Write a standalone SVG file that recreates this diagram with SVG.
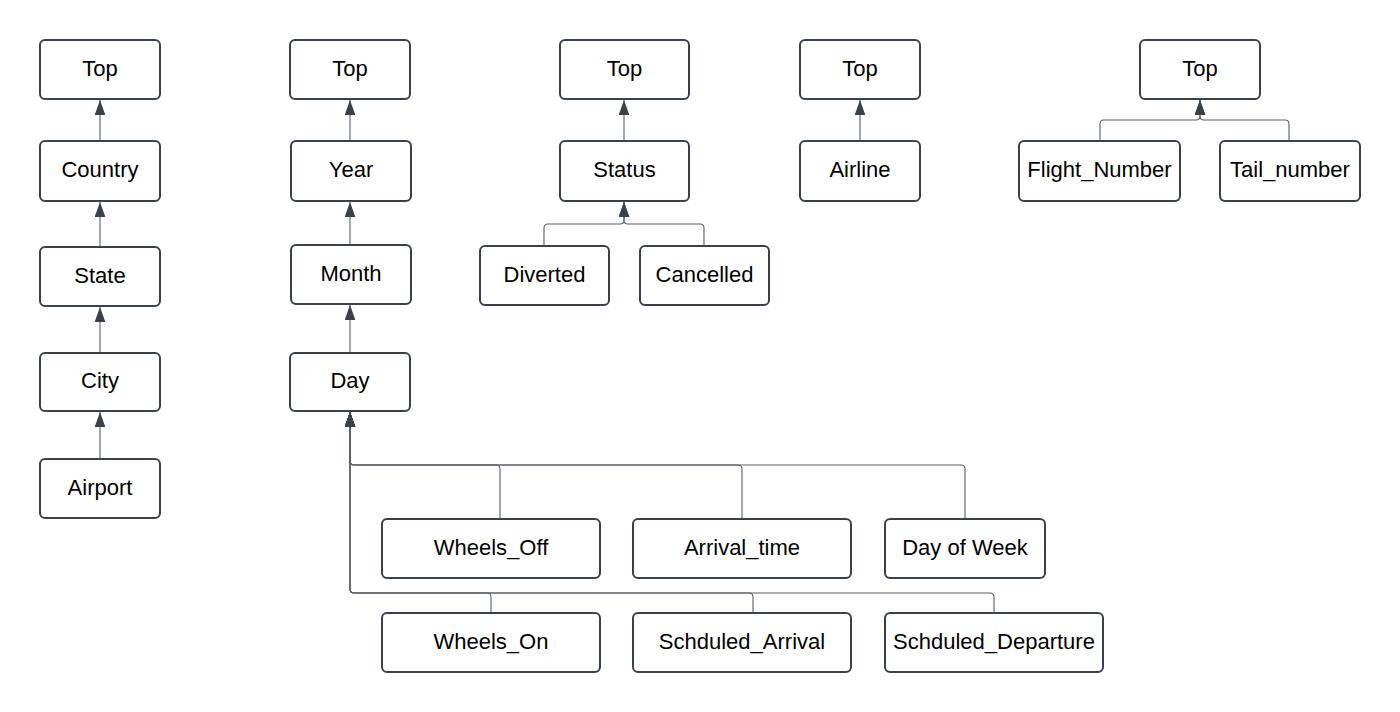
<svg xmlns="http://www.w3.org/2000/svg" width="1400" height="712" viewBox="0 0 1400 712">
<style>
.n rect{fill:#ffffff;stroke:#3a414a;stroke-width:2}
.n text{font-family:"Liberation Sans",Arial,sans-serif;font-size:22px;fill:#000;text-anchor:middle}
.c path{fill:none;stroke:#5a6068;stroke-width:1.1}
</style>
<defs>
<marker id="ah" viewBox="0 0 14 10" refX="14" refY="5" markerWidth="15" markerHeight="11" markerUnits="userSpaceOnUse" orient="auto">
<path d="M0,0 L14,5 L0,10 z" fill="#3a414a"/>
</marker>
</defs>
<rect width="1400" height="712" fill="#ffffff"/>
<g id="connectors" class="c">
<path d="M100 141 V100" marker-end="url(#ah)"/>
<path d="M100 247 V202" marker-end="url(#ah)"/>
<path d="M100 353 V307" marker-end="url(#ah)"/>
<path d="M100 459 V412" marker-end="url(#ah)"/>
<path d="M350 141 V100" marker-end="url(#ah)"/>
<path d="M350 245 V202" marker-end="url(#ah)"/>
<path d="M350 353 V305" marker-end="url(#ah)"/>
<path d="M500 519 V469 Q500 465 496 465 H354 Q350 465 350 461 V412" marker-end="url(#ah)"/>
<path d="M742 519 V469 Q742 465 738 465 H354 Q350 465 350 461 V412" marker-end="url(#ah)"/>
<path d="M965 519 V469 Q965 465 961 465 H354 Q350 465 350 461 V412" marker-end="url(#ah)"/>
<path d="M491 613 V597 Q491 593 487 593 H354 Q350 593 350 589 V412" marker-end="url(#ah)"/>
<path d="M753 613 V597 Q753 593 749 593 H354 Q350 593 350 589 V412" marker-end="url(#ah)"/>
<path d="M994 613 V597 Q994 593 990 593 H354 Q350 593 350 589 V412" marker-end="url(#ah)"/>
<path d="M624 141 V100" marker-end="url(#ah)"/>
<path d="M544 246 V228 Q544 224 548 224 H620 Q624 224 624 220 V202" marker-end="url(#ah)"/>
<path d="M704 246 V228 Q704 224 700 224 H628 Q624 224 624 220 V202" marker-end="url(#ah)"/>
<path d="M860 141 V100" marker-end="url(#ah)"/>
<path d="M1100 141 V124 Q1100 120 1104 120 H1196 Q1200 120 1200 116 V100" marker-end="url(#ah)"/>
<path d="M1289 141 V124 Q1289 120 1285 120 H1204 Q1200 120 1200 116 V100" marker-end="url(#ah)"/>
</g>
<g id="top1" class="n"><rect x="40" y="40" width="120" height="59" rx="5"/><text x="100" y="76">Top</text></g>
<g id="country" class="n"><rect x="40" y="141" width="120" height="60" rx="5"/><text x="100" y="177">Country</text></g>
<g id="state" class="n"><rect x="40" y="247" width="120" height="59" rx="5"/><text x="100" y="283">State</text></g>
<g id="city" class="n"><rect x="40" y="353" width="120" height="58" rx="5"/><text x="100" y="388">City</text></g>
<g id="airport" class="n"><rect x="40" y="459" width="120" height="59" rx="5"/><text x="100" y="495">Airport</text></g>
<g id="top2" class="n"><rect x="290" y="40" width="120" height="59" rx="5"/><text x="350" y="76">Top</text></g>
<g id="year" class="n"><rect x="291" y="141" width="120" height="60" rx="5"/><text x="351" y="177">Year</text></g>
<g id="month" class="n"><rect x="291" y="245" width="120" height="59" rx="5"/><text x="351" y="281">Month</text></g>
<g id="day" class="n"><rect x="290" y="353" width="120" height="58" rx="5"/><text x="350" y="388">Day</text></g>
<g id="top3" class="n"><rect x="560" y="40" width="129" height="59" rx="5"/><text x="624.5" y="76">Top</text></g>
<g id="status" class="n"><rect x="560" y="141" width="129" height="60" rx="5"/><text x="624.5" y="177">Status</text></g>
<g id="diverted" class="n"><rect x="480" y="246" width="129" height="59" rx="5"/><text x="544.5" y="282">Diverted</text></g>
<g id="cancelled" class="n"><rect x="640" y="246" width="129" height="59" rx="5"/><text x="704.5" y="282">Cancelled</text></g>
<g id="top4" class="n"><rect x="800" y="40" width="120" height="59" rx="5"/><text x="860" y="76">Top</text></g>
<g id="airline" class="n"><rect x="800" y="141" width="120" height="60" rx="5"/><text x="860" y="177">Airline</text></g>
<g id="top5" class="n"><rect x="1140" y="40" width="120" height="59" rx="5"/><text x="1200" y="76">Top</text></g>
<g id="flight_number" class="n"><rect x="1019" y="141" width="161" height="60" rx="5"/><text x="1099.5" y="177">Flight_Number</text></g>
<g id="tail_number" class="n"><rect x="1220" y="141" width="140" height="60" rx="5"/><text x="1290" y="177">Tail_number</text></g>
<g id="wheels_off" class="n"><rect x="382" y="519" width="218" height="59" rx="5"/><text x="491" y="555">Wheels_Off</text></g>
<g id="arrival_time" class="n"><rect x="633" y="519" width="218" height="59" rx="5"/><text x="742" y="555">Arrival_time</text></g>
<g id="day_of_week" class="n"><rect x="885" y="519" width="160" height="59" rx="5"/><text x="965" y="555">Day of Week</text></g>
<g id="wheels_on" class="n"><rect x="382" y="613" width="218" height="59" rx="5"/><text x="491" y="649">Wheels_On</text></g>
<g id="schduled_arrival" class="n"><rect x="633" y="613" width="218" height="59" rx="5"/><text x="742" y="649">Schduled_Arrival</text></g>
<g id="schduled_departure" class="n"><rect x="885" y="613" width="218" height="59" rx="5"/><text x="994" y="649">Schduled_Departure</text></g>
</svg>
